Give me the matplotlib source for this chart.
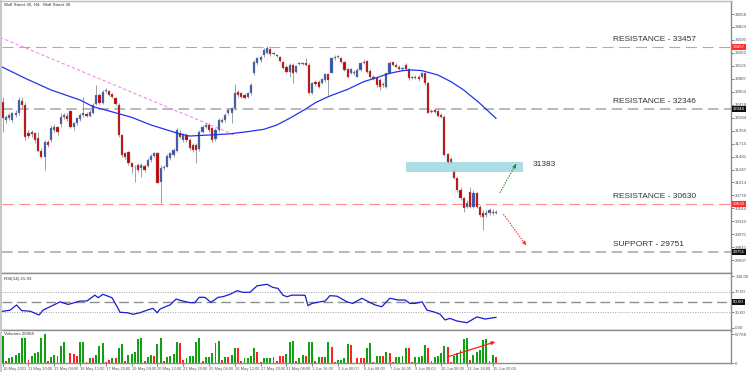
import numpy as np
import matplotlib.pyplot as plt
from matplotlib.patches import Rectangle

plt.rcParams['font.family'] = ['Liberation Sans', 'DejaVu Sans']

# ---- H4 candles, Wall Street 30 (10 May - 15 Jun 2022) ----
opens = [32474, 32142, 32172, 32142, 32232, 32262, 32492, 32413, 31901, 31931,
         31901, 31810, 31587, 31479, 31750, 31780, 31960, 32009, 32070, 32190,
         32220, 32305, 32021, 32082, 32154, 32232, 32250, 32214, 32275, 32431,
         32594, 32455, 32667, 32667, 32606, 32546, 32413, 31871, 31539, 31557,
         31370, 31298, 31328, 31268, 31310, 31310, 31418, 31497, 31539, 31026,
         31268, 31298, 31448, 31509, 31581, 31901, 31780, 31871, 31780, 31690,
         31690, 31611, 31931, 32021, 32051, 31991, 31792, 31960, 32112, 32142,
         32262, 32262, 32353, 32654, 32624, 32594, 32564, 32624, 32986, 33167,
         33227, 33318, 33360, 33420, 33336, 33318, 33288, 33197, 33107, 33016,
         33137, 33016, 33167, 33155, 33167, 33137, 32624, 32835, 32835, 32805,
         32865, 32968, 32998, 33257, 33288, 33257, 33197, 33058, 32998, 32986,
         32926, 33046, 33167, 33209, 33034, 32926, 32896, 32865, 32793, 32733,
         32986, 33185, 33137, 33107, 33058, 33137, 33058, 32914, 32926, 32926,
         32926, 32986, 32805, 32293, 32323, 32311, 32232, 32202, 31527, 31388,
         31207, 31087, 30876, 30725, 30574, 30845, 30574, 30815, 30574, 30453,
         30423, 30453, 30484, 30466]
closes = [32172, 32190, 32232, 32262, 32262, 32504, 32413, 31840, 31852, 31889,
          31780, 31587, 31479, 31750, 31690, 32003, 32021, 31931, 32190, 32232,
          32154, 32021, 32082, 32172, 32232, 32262, 32214, 32293, 32413, 32594,
          32455, 32654, 32679, 32594, 32552, 32431, 31871, 31509, 31467, 31358,
          31298, 31286, 31237, 31328, 31237, 31418, 31497, 31539, 31008, 31268,
          31298, 31491, 31539, 31599, 31960, 31840, 31871, 31780, 31629, 31599,
          31599, 31931, 32021, 32051, 31960, 31780, 31960, 32142, 32142, 32232,
          32323, 32353, 32624, 32594, 32564, 32546, 32624, 32775, 33197, 33257,
          33288, 33408, 33438, 33330, 33348, 33300, 33215, 33077, 33016, 33137,
          32998, 33119, 33155, 33167, 33137, 32624, 32805, 32787, 32745, 32878,
          32968, 32865, 33257, 33288, 33300, 33197, 33046, 32926, 33058, 33016,
          33046, 33167, 33197, 33016, 32926, 32878, 32775, 32733, 32775, 32986,
          33179, 33137, 33107, 33058, 33077, 33058, 32896, 32896, 32908, 32878,
          32986, 32805, 32275, 32311, 32293, 32214, 32190, 31509, 31388, 31430,
          31087, 30876, 30725, 30544, 30634, 30574, 30827, 30574, 30423, 30393,
          30466, 30514, 30453, 30484]
highs = [32564, 32232, 32262, 32293, 32323, 32564, 32564, 32474, 31960, 31960,
         31931, 31931, 31629, 31780, 31780, 32051, 32070, 32033, 32262, 32275,
         32262, 32323, 32112, 32202, 32262, 32564, 32293, 32323, 32455, 32775,
         32624, 32685, 32715, 32685, 32624, 32564, 32443, 31889, 31569, 31587,
         31388, 31328, 31370, 31358, 31346, 31448, 31527, 31569, 31569, 31328,
         31328, 31527, 31569, 31629, 31991, 31960, 31901, 31901, 31810, 31720,
         31720, 31960, 32051, 32082, 32082, 32021, 31991, 32172, 32172, 32262,
         32353, 32383, 32793, 32685, 32654, 32624, 32654, 32805, 33227, 33288,
         33318, 33438, 33481, 33438, 33378, 33336, 33300, 33215, 33137, 33167,
         33167, 33137, 33191, 33191, 33257, 33167, 32835, 32865, 32865, 32908,
         32998, 32998, 33288, 33318, 33324, 33288, 33215, 33077, 33077, 33046,
         33077, 33197, 33239, 33227, 33058, 32956, 32926, 32896, 32835, 32998,
         33215, 33197, 33167, 33137, 33107, 33167, 33077, 32938, 32956, 32956,
         33016, 32998, 32835, 32335, 32353, 32335, 32262, 32232, 31551, 31479,
         31237, 31117, 30936, 30755, 30694, 30936, 30876, 30845, 30604, 30514,
         30514, 30544, 30526, 30514]
lows = [31931, 32082, 32142, 32112, 32190, 32232, 32353, 31780, 31810, 31840,
        31720, 31569, 31448, 31237, 31659, 31750, 31931, 31871, 32021, 32154,
        32130, 31991, 31960, 32051, 32130, 32202, 32190, 32190, 32250, 32413,
        32431, 32431, 32636, 32576, 32534, 32413, 31840, 31479, 31430, 31328,
        31177, 31026, 31207, 31117, 31207, 31286, 31388, 31479, 30996, 30634,
        31237, 31286, 31418, 31479, 31569, 31810, 31750, 31750, 31599, 31569,
        31358, 31587, 31901, 31991, 31931, 31750, 31768, 31931, 32082, 32112,
        32232, 32082, 32323, 32564, 32534, 32516, 32534, 32594, 32956, 33137,
        33197, 33288, 33336, 33300, 33312, 33276, 33197, 33058, 32986, 32926,
        32805, 32986, 33137, 33137, 33119, 32612, 32612, 32757, 32727, 32787,
        32835, 32594, 32986, 33227, 33263, 33179, 33028, 32896, 32974, 32956,
        32914, 33034, 33155, 32998, 32908, 32865, 32745, 32685, 32745, 32715,
        32968, 33119, 33095, 33046, 33034, 33046, 32865, 32878, 32878, 32853,
        32896, 32775, 32262, 32262, 32262, 32190, 32172, 31491, 31370, 31358,
        31069, 30845, 30694, 30484, 30544, 30544, 30544, 30544, 30393, 30152,
        30381, 30423, 30423, 30441]

# moving average (read at sample bars)
ma_pos = [-0.8, 7, 15, 24, 28, 33, 40, 46, 51, 55, 58, 64, 70, 76, 81, 85, 89, 94,
          97, 101, 107, 112, 116, 120, 124, 127, 130, 135, 139, 143, 148, 153]
ma_val = [33119, 32896, 32685, 32504, 32384, 32305, 32191, 32052, 31962, 31890,
          31853, 31871, 31890, 31932, 31974, 32052, 32173, 32342, 32456, 32565,
          32697, 32836, 32908, 32986, 33035, 33047, 33035, 32956, 32836, 32685,
          32444, 32173]

# RSI(14)
rsi_pos = [-0.8, 2.3, 4.3, 5.9, 8.5, 11.3, 12.5, 14.7, 17.8, 20.3, 24, 26.1, 28.6,
           29.6, 31.1, 33.9, 35.5, 36.4, 38.6, 40.4, 42.6, 44.8, 46.6, 47.9, 48.8,
           51, 51.9, 53.8, 55.6, 58.1, 59.6, 60.9, 62.7, 64.6, 66.8, 68.3, 70.5,
           72.7, 74.5, 76.7, 78.9, 82, 83.8, 85.4, 86.9, 88.2, 89.7, 92.2, 93.8,
           94.7, 95.9, 98.4, 100, 101.5, 103.7, 106.8, 108.6, 111.4, 113, 115.5,
           117.6, 120.1, 122.6, 124.8, 126.3, 127.9, 130.1, 131.6, 133.5, 135.6,
           137.2, 138.7, 140.9, 144, 147.1, 149.6, 153]
rsi_val = [31, 34, 44, 33, 32, 24.6, 34, 40.6, 50, 45, 51.6, 51.6, 63, 58, 64.6,
           58, 40.6, 29.8, 29, 26, 29, 34, 37.5, 29, 36, 42, 44, 55.5, 52, 48.4,
           48.4, 58.8, 58.8, 49, 58.8, 60, 64.6, 71.6, 68.5, 68.5, 81, 84, 78, 76,
           63, 60, 63, 63, 62.6, 42.6, 47, 50, 51.6, 62, 61, 50, 47, 57, 51.6, 44,
           40.6, 57, 53.6, 53.6, 47, 47, 50, 34, 31, 26.5, 15, 18, 13, 9.7, 21,
           16.8, 20]

# tick volumes, g = higher, r = lower
volumes = [53240, 4540, 9860, 13210, 16370, 19720, 50480, 50480, 6510, 15180,
           19720, 23070, 49300, 57768, 5320, 13210, 16370, 15180, 34120, 42600,
           1380, 19720, 17750, 14400, 42600, 42600, 3350, 9860, 9860, 16370,
           34120, 39440, 1970, 6510, 9860, 9860, 29580, 37470, 5320, 16370,
           18340, 23070, 47330, 50480, 5320, 11830, 16370, 14400, 37470, 50480,
           5320, 11830, 14400, 18340, 41410, 39440, 6510, 9860, 14400, 14400,
           42600, 49300, 5320, 11830, 13210, 19720, 39440, 44570, 6510, 13210,
           13210, 16370, 30760, 30760, 4540, 9860, 9860, 14400, 30760, 23070,
           3350, 9860, 9860, 9860, 13210, 5320, 14400, 14400, 18340, 42600,
           43380, 5320, 9860, 16370, 14400, 41410, 42600, 5320, 11830, 11830,
           11830, 42600, 31550, 3350, 6510, 6510, 9860, 38060, 36090, 1380,
           9860, 9860, 9860, 30760, 39440, 3350, 14400, 14400, 14400, 21690,
           19720, 3350, 11830, 13210, 14400, 29580, 29580, 1970, 11830, 11830,
           14400, 36090, 29580, 4540, 11830, 14400, 19720, 34120, 31550, 3350,
           14400, 19720, 26230, 47330, 49300, 6510, 16370, 21690, 26230, 45950,
           47330, 5320, 16370, 11830]
vol_dir = ("grggggggrg" "ggggrggrgg" "rrrrggrgrg" "ggrrgrggrg" "ggggrggrgg"
           "rggggrrggg" "ggrgggggrg" "rggrrggggr" "rggggrrrgg" "grggrggrgr"
           "ggrrggggrr" "rrrggrggrg" "rrggggrrgg" "ggrrggggrr" "gggggrgggg" "grgr")

# horizontal levels
levels = [33457, 32346, 30630, 29751]
level_names = ['RESISTANCE - 33457', 'RESISTANCE - 32346', 'RESISTANCE - 30630', 'SUPPORT - 29751']
level_red = [True, False, True, False]

price_ticks = [29607, 29841, 30075, 30310, 30544, 30778, 31013, 31247, 31481, 31715,
               31950, 32184, 32418, 32653, 32887, 33121, 33356, 33590, 33824, 34058]

date_pos = list(range(0, 153, 8))
date_labels = ['10 May 2022', '11 May 20:00', '13 May 04:00', '16 May 12:00', '17 May 20:00',
               '19 May 04:00', '20 May 12:00', '23 May 20:00', '25 May 04:00', '26 May 12:00',
               '27 May 20:00', '31 May 08:00', '1 Jun 16:00', '3 Jun 00:00', '6 Jun 08:00',
               '7 Jun 16:00', '9 Jun 00:00', '10 Jun 08:00', '13 Jun 16:00', '15 Jun 00:00']

# drawn annotations (bar, price)
trend_x, trend_y = [-0.8, 72.6], [33637, 31853]
zone_x, zone_lo, zone_hi = [125.1, 161.3], 31197, 31389
zone_label = '31383'
up_arrow = [(154.2, 30828), (159.2, 31342)]
down_arrow = [(155.3, 30438), (162.3, 29883)]
vol_arrow = [(137.2, 11040), (153.6, 43980)]

o, c, h, l = (np.array(v, float) for v in (opens, closes, highs, lows))
x = np.arange(len(o))
up = c >= o

fig = plt.figure(figsize=(7.5, 3.72), dpi=100)
L, W = 0.00267, 0.972
ax = fig.add_axes([L, 0.2661, W, 0.7312])
ax_rsi = fig.add_axes([L, 0.1129, W, 0.1532])
ax_vol = fig.add_axes([L, 0.0234, W, 0.0895])

for a in (ax, ax_rsi, ax_vol):
    a.set_xlim(-0.217, 225.9)
    a.spines['left'].set_visible(False)
    for s in ('top', 'bottom', 'right'):
        a.spines[s].set_color('#8c8c8c')
        a.spines[s].set_linewidth(1.0)
    a.yaxis.tick_right()
    a.tick_params(axis='y', labelsize=3.2, length=2, width=0.5, pad=1, colors='#555555')
    a.tick_params(axis='x', length=0)
ax.set_xticks([])
ax_rsi.set_xticks([])
ax.spines['top'].set_color('#bbbbbb')

# ---- main price panel ----
ax.set_ylim(29376, 34294)
ax.set_yticks(price_ticks)
ax.set_yticklabels([str(t) for t in price_ticks])

for lev, red in zip(levels, level_red):
    if red:
        ax.axhline(lev, color='#ff8a8a', lw=0.8, dashes=(10, 5), zorder=1)
    else:
        ax.axhline(lev, color='#a6a6a6', lw=1.1, dashes=(7, 3.5), zorder=1)
for lev, name in zip(levels, level_names):
    ax.annotate(name, (189.3, lev), xytext=(0, 5.3), textcoords='offset points',
                fontsize=6, color='#333333', va='center', ha='left')
for lev, red in zip(levels, level_red):
    ax.text(1.003, lev, str(lev), transform=ax.get_yaxis_transform(), fontsize=3.2,
            color='white', va='center', ha='left', zorder=10,
            bbox=dict(boxstyle='square,pad=0.2', fc='#ff2a2a' if red else '#111111', ec='none'))

ax.plot(trend_x, trend_y, color='#f08cf0', lw=0.8, dashes=(3, 2), zorder=2)
ax.add_patch(Rectangle((zone_x[0], zone_lo), zone_x[1] - zone_x[0], zone_hi - zone_lo,
                       fc='#abdde4', ec='none', zorder=2))
ax.text(164.4, 31345, zone_label, fontsize=6, color='#333333', va='center', ha='left')

body_lo = np.minimum(o, c)
body_h = np.maximum(np.abs(c - o), 12)
ax.vlines(x, l, h, color='#8f8f8f', lw=0.6, zorder=3)
ax.bar(x[up], body_h[up], bottom=body_lo[up], width=0.68, color='#3453b0',
       edgecolor='#8f8f8f', linewidth=0.25, zorder=4)
ax.bar(x[~up], body_h[~up], bottom=body_lo[~up], width=0.68, color='#c80000',
       edgecolor='#8f8f8f', linewidth=0.25, zorder=4)
ax.plot(ma_pos, ma_val, color='#2233ee', lw=0.9, zorder=5)

for (x0, y0), (x1, y1), col in ((up_arrow[0], up_arrow[1], '#1a8a1a'),
                                (down_arrow[0], down_arrow[1], '#ff2020')):
    ax.plot([x0, x1], [y0, y1], color=col, lw=0.8, ls=(0, (1.2, 1.2)), zorder=6)
    ax.annotate('', xy=(x1, y1), xytext=(x0 + 0.9 * (x1 - x0), y0 + 0.9 * (y1 - y0)),
                arrowprops=dict(arrowstyle='-|>', color=col, lw=0.6, mutation_scale=5),
                zorder=6)

fig.text(0.006, 0.994, 'Wall Street 30, H4:  Wall Street 30', fontsize=3.2,
         color='#333333', va='top', ha='left')

# ---- RSI panel ----
ax_rsi.set_ylim(-4.4, 105.8)
ax_rsi.set_yticks([0, 30, 70, 100])
ax_rsi.set_yticklabels(['0.00', '30.00', '70.00', '100.00'])
ax_rsi.axhline(70, color='#a0a0a0', lw=0.7, dashes=(1, 1.5))
ax_rsi.axhline(30, color='#a0a0a0', lw=0.7, dashes=(1, 1.5))
ax_rsi.axhline(50, color='#909090', lw=1.0, dashes=(7, 3.5))
ax_rsi.plot(rsi_pos, rsi_val, color='#1a1ad0', lw=0.9)
ax_rsi.text(1.003, 50, '50.00', transform=ax_rsi.get_yaxis_transform(), fontsize=3.2,
            color='white', va='center', ha='left',
            bbox=dict(boxstyle='square,pad=0.2', fc='#111111', ec='none'))
ax_rsi.text(0.003, 0.93, 'RSI(14) 21.93', transform=ax_rsi.transAxes, fontsize=3.2,
            color='#333333', va='top', ha='left')

# ---- volume panel ----
vol_colors = ['#11a011' if d == 'g' else '#ff2020' for d in vol_dir]
ax_vol.bar(x, volumes, width=0.6, color=vol_colors, edgecolor='none')
ax_vol.set_ylim(0, 65670)
ax_vol.set_yticks([0, 57768])
ax_vol.set_yticklabels(['0', '57768'])
ax_vol.text(0.003, 0.93, 'Volumes 20004', transform=ax_vol.transAxes, fontsize=3.2,
            color='#333333', va='top', ha='left')
ax_vol.annotate('', xy=vol_arrow[1], xytext=vol_arrow[0],
                arrowprops=dict(arrowstyle='-|>', color='#ff2020', lw=0.9, mutation_scale=5))
ax_vol.set_xticks(date_pos)
ax_vol.set_xticklabels(date_labels, fontsize=2.9, ha='left', color='#333333')
ax_vol.tick_params(axis='x', length=2, width=0.5, pad=1, colors='#555555')

fig.patches.append(Rectangle((0, 0), 2 / 750, 1, transform=fig.transFigure,
                             fc='#c8c8c8', ec='none'))

plt.savefig('out.png', dpi=100)
